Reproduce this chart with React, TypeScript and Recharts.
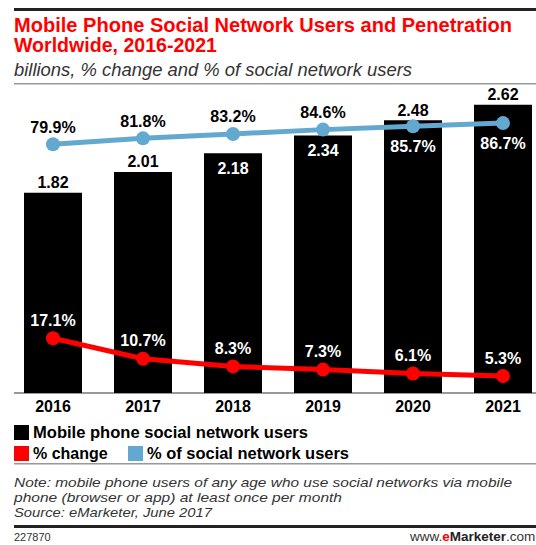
import React from 'react';
import { ComposedChart, Bar, Line, XAxis, YAxis, LabelList } from 'recharts';

const years = ['2016', '2017', '2018', '2019', '2020', '2021'];
const users = [1.82, 2.01, 2.18, 2.34, 2.48, 2.62];
const pctChange = [17.1, 10.7, 8.3, 7.3, 6.1, 5.3];
const pctSocial = [79.9, 81.8, 83.2, 84.6, 85.7, 86.7];

const usersInside = [false, false, true, true, false, false];
const socialInside = [false, false, false, false, true, true];

const data = years.map((y, i) => ({
  year: y,
  users: users[i],
  change: pctChange[i],
  social: pctSocial[i],
}));

const FONT = '"Liberation Sans", Arial, Helvetica, sans-serif';
const BLUE = '#63a9cf';
const RED = '#ff0000';

const getXY = (p: any) => {
  const vb = p.viewBox || {};
  const x = p.x ?? vb.x;
  const y = p.y ?? vb.y;
  const width = p.width ?? vb.width ?? 0;
  return { x, y, width };
};

const barLabel = (p: any) => {
  const { x, y, width } = getXY(p);
  const i = p.index;
  const inside = usersInside[i];
  return (
    <text
      x={x + width / 2}
      y={inside ? y + 15 : y - 10}
      textAnchor="middle"
      dominantBaseline="central"
      fill={inside ? '#fff' : '#000'}
      fontFamily={FONT}
      fontWeight="bold"
      fontSize={16}
    >
      {Number(p.value).toFixed(2)}
    </text>
  );
};

const socialLabel = (p: any) => {
  const { x, y } = getXY(p);
  const i = p.index;
  const inside = socialInside[i];
  return (
    <text
      x={x}
      y={inside ? y + 20 : y - 17}
      textAnchor="middle"
      dominantBaseline="central"
      fill={inside ? '#fff' : '#000'}
      fontFamily={FONT}
      fontWeight="bold"
      fontSize={16}
    >
      {Number(p.value).toFixed(1) + '%'}
    </text>
  );
};

const changeLabel = (p: any) => {
  const { x, y } = getXY(p);
  return (
    <text
      x={x}
      y={y - 18}
      textAnchor="middle"
      dominantBaseline="central"
      fill="#fff"
      fontFamily={FONT}
      fontWeight="bold"
      fontSize={16}
    >
      {Number(p.value).toFixed(1) + '%'}
    </text>
  );
};

export default function App() {
  return (
    <div
      style={{
        position: 'absolute',
        left: 0,
        top: 0,
        width: 536,
        height: 545,
        overflow: 'hidden',
        background: '#fff',
      }}
    >
      <svg
        width={536}
        height={545}
        style={{ position: 'absolute', left: 0, top: 0 }}
        fontFamily={FONT}
      >
        <rect x={14} y={8} width={530} height={3} fill="#222" />
        <text x={14} y={32} fill={RED} fontWeight="bold" fontSize={19.5} textLength={498} lengthAdjust="spacingAndGlyphs">
          Mobile Phone Social Network Users and Penetration
        </text>
        <text x={14} y={52} fill={RED} fontWeight="bold" fontSize={19.5} textLength={203} lengthAdjust="spacingAndGlyphs">
          Worldwide, 2016-2021
        </text>
        <text x={14} y={76} fill="#333" fontStyle="italic" fontSize={17.5} textLength={398} lengthAdjust="spacingAndGlyphs">
          billions, % change and % of social network users
        </text>
        <rect x={14} y={83} width={530} height={1.5} fill="#999" />

        <rect x={14} y={392} width={530} height={2} fill="#999" />

        <rect x={14} y={425} width={15} height={15} fill="#000" />
        <text x={33} y={438} fill="#000" fontWeight="bold" fontSize={16} textLength={275} lengthAdjust="spacingAndGlyphs">
          Mobile phone social network users
        </text>
        <rect x={14} y={446} width={15} height={15} fill={RED} />
        <text x={33} y={459} fill="#000" fontWeight="bold" fontSize={16}>
          % change
        </text>
        <rect x={128} y={446} width={15} height={15} fill={BLUE} />
        <text x={147} y={459} fill="#000" fontWeight="bold" fontSize={16} textLength={202} lengthAdjust="spacingAndGlyphs">
          % of social network users
        </text>

        <rect x={14} y={463} width={530} height={1.5} fill="#999" />
        <text x={14} y={487} fill="#333" fontStyle="italic" fontSize={13} textLength={498} lengthAdjust="spacingAndGlyphs">
          Note: mobile phone users of any age who use social networks via mobile
        </text>
        <text x={14} y={502} fill="#333" fontStyle="italic" fontSize={13} textLength={328} lengthAdjust="spacingAndGlyphs">
          phone (browser or app) at least once per month
        </text>
        <text x={14} y={517} fill="#333" fontStyle="italic" fontSize={13} textLength={198} lengthAdjust="spacingAndGlyphs">
          Source: eMarketer, June 2017
        </text>
        <rect x={14} y={525} width={530} height={3} fill="#222" />
        <text x={14} y={541} fill="#333" fontSize={11}>
          227870
        </text>
        <text x={410} y={541} fill="#333" fontSize={13.5}>
          www.
          <tspan fill={RED} fontWeight="bold">e</tspan>
          <tspan fill="#222" fontWeight="bold">Marketer</tspan>
          <tspan>.com</tspan>
        </text>
      </svg>

      <div style={{ position: 'absolute', left: 0, top: 0 }}>
        <ComposedChart
          width={548}
          height={545}
          data={data}
          margin={{ top: 63, right: 0, bottom: 122, left: 8 }}
        >
          <XAxis
            dataKey="year"
            axisLine={false}
            tickLine={false}
            height={30}
            interval={0}
            tick={{ fill: '#000', fontFamily: FONT, fontWeight: 'bold', fontSize: 16 }}
          />
          <YAxis yAxisId="users" hide domain={[0, 3]} />
          <YAxis yAxisId="social" hide domain={[0, 106]} />
          <YAxis yAxisId="change" hide domain={[0, 103]} />
          <Bar yAxisId="users" dataKey="users" fill="#000" barSize={58} isAnimationActive={false}>
            <LabelList dataKey="users" content={barLabel} />
          </Bar>
          <Line
            yAxisId="social"
            dataKey="social"
            type="linear"
            stroke={BLUE}
            strokeWidth={5}
            dot={{ r: 7, fill: BLUE, stroke: BLUE, strokeWidth: 0 }}
            isAnimationActive={false}
          >
            <LabelList dataKey="social" content={socialLabel} />
          </Line>
          <Line
            yAxisId="change"
            dataKey="change"
            type="linear"
            stroke={RED}
            strokeWidth={5}
            dot={{ r: 7, fill: RED, stroke: RED, strokeWidth: 0 }}
            isAnimationActive={false}
          >
            <LabelList dataKey="change" content={changeLabel} />
          </Line>
        </ComposedChart>
      </div>
    </div>
  );
}
